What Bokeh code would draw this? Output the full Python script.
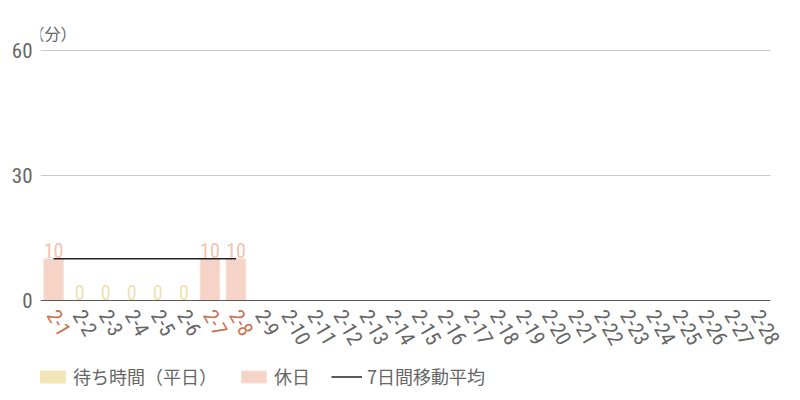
from bokeh.plotting import figure
from bokeh.models import (ColumnDataSource, LabelSet, Label, Legend, LegendItem,
                          FixedTicker, Range1d)
from bokeh.core.properties import value
from bokeh.embed import file_html
from bokeh.resources import INLINE

dates = ["2-%d" % d for d in range(1, 29)]
weekday_dates = ["2-2", "2-3", "2-4", "2-5", "2-6"]
weekday_values = [0, 0, 0, 0, 0]
holiday_dates = ["2-1", "2-7", "2-8"]
holiday_values = [10, 10, 10]
ma_dates = ["2-1", "2-2", "2-3", "2-4", "2-5", "2-6", "2-7", "2-8"]
ma_values = [10, 10, 10, 10, 10, 10, 10, 10]
y_ticks = [0, 30, 60]
grid_ticks = [30, 60]

NUM_FONT = "Roboto Condensed, DejaVu Sans Condensed, Roboto"
JP_FONT = "Noto Sans CJK JP"
GRAY = "#666666"
YELLOW = "#f2e6b8"
PINK = "#f5d4c7"
RED_LABEL = "#c87455"


def pos(d):
    # category slot centre (slot width 1) on the numeric x scale
    return dates.index(d) + 0.5


n = len(dates)
# frame extends below 0 and right of the last day so tick labels / legend fit inside it
p = figure(width=784, height=392, x_range=Range1d(0, 28.54),
           y_range=Range1d(-22.08, 67.2),
           output_backend="svg", toolbar_location=None,
           min_border_left=40, min_border_right=0, min_border_top=20, min_border_bottom=0)
p.outline_line_color = None
p.background_fill_color = "white"

# grid lines spanning the category slots
p.segment(x0=[0] * len(grid_ticks), x1=[n] * len(grid_ticks), y0=grid_ticks, y1=grid_ticks,
          line_color="#cccccc", line_width=1)

wk = ColumnDataSource(dict(x=[pos(d) for d in weekday_dates], top=weekday_values,
                           lab=[str(v) for v in weekday_values]))
hd = ColumnDataSource(dict(x=[pos(d) for d in holiday_dates], top=holiday_values,
                           lab=[str(v) for v in holiday_values]))
ma = ColumnDataSource(dict(x=[pos(d) for d in ma_dates], y=ma_values))

r_wk = p.vbar(x="x", top="top", bottom=0, width=0.75, source=wk,
              fill_color=YELLOW, line_color=YELLOW, line_width=1)
r_hd = p.vbar(x="x", top="top", bottom=0, width=0.75, source=hd,
              fill_color=PINK, line_color="#f8e0d6", line_width=1)
r_ma = p.line(x="x", y="y", source=ma, line_color="#222222", line_width=1.5)

# baseline on top of the bars
p.segment(x0=[0], x1=[n], y0=[0], y1=[0], line_color="#5a5a5a", line_width=1)

p.add_layout(LabelSet(x="x", y="top", text="lab", source=wk, text_align="center",
                      text_baseline="bottom", y_offset=1, text_color="#efe2b0",
                      text_font=value(NUM_FONT), text_font_size="20px"))
p.add_layout(LabelSet(x="x", y="top", text="lab", source=hd, text_align="center",
                      text_baseline="bottom", y_offset=1, text_color="#f1c3b1",
                      text_font=value(NUM_FONT), text_font_size="20px"))

# x tick labels (colored per day type)
tick_colors = [RED_LABEL if d in holiday_dates else GRAY for d in dates]
ticks = ColumnDataSource(dict(x=[pos(d) for d in dates], y=[0] * n, t=dates, c=tick_colors))
p.add_layout(LabelSet(x="x", y="y", text="t", source=ticks, text_color="c",
                      angle=-60, angle_units="deg", text_align="left",
                      text_baseline="middle", x_offset=-1, y_offset=-11,
                      text_font=value(NUM_FONT), text_font_size="21px"))

# axes
p.xaxis.visible = False

p.yaxis.ticker = FixedTicker(ticks=y_ticks)
p.yaxis.axis_line_color = None
p.yaxis.major_tick_line_color = None
p.yaxis.minor_tick_line_color = None
p.yaxis.major_tick_out = 0
p.yaxis.major_label_text_font = NUM_FONT
p.yaxis.major_label_text_font_size = "21px"
p.yaxis.major_label_text_color = GRAY
p.yaxis.major_label_standoff = 8

p.xgrid.grid_line_color = None
p.ygrid.grid_line_color = None

p.add_layout(Label(x=0, y=60, text="（分）", text_font=JP_FONT, text_font_size="16px",
                   text_color=GRAY, text_baseline="middle", text_align="left",
                   x_offset=-12, y_offset=18))

legend = Legend(items=[
    LegendItem(label="待ち時間（平日）", renderers=[r_wk]),
    LegendItem(label="休日", renderers=[r_hd]),
    LegendItem(label="7日間移動平均", renderers=[r_ma]),
], orientation="horizontal", location=(-3, 3), padding=0, margin=0,
    label_text_font=JP_FONT, label_text_font_size="18px", label_text_color=GRAY,
    glyph_width=31, glyph_height=15, label_height=17, spacing=21, label_standoff=5,
    border_line_color=None, background_fill_alpha=0)
p.add_layout(legend, "center")

open("out.html", "w").write(file_html(p, INLINE))
